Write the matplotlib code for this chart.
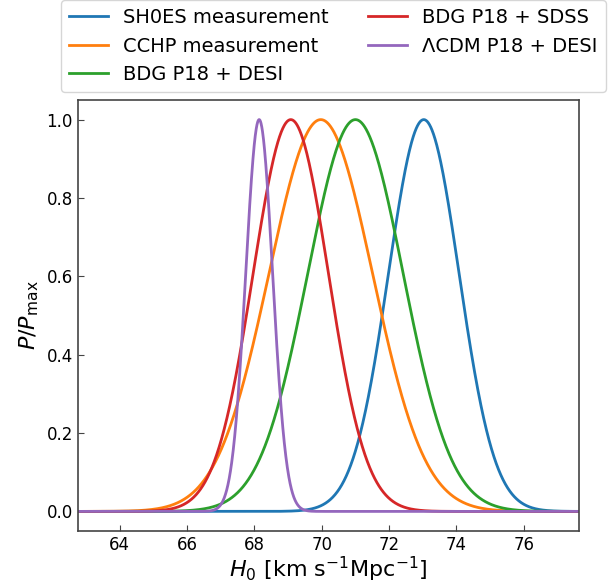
import numpy as np
import matplotlib
matplotlib.use("Agg")
import matplotlib.pyplot as plt

labels = ["SH0ES measurement", "CCHP measurement", "BDG P18 + DESI",
          "BDG P18 + SDSS", "ΛCDM P18 + DESI"]
means = [73.03, 69.97, 71.0, 69.08, 68.14]
sigmas = [1.05, 1.54, 1.42, 1.12, 0.40]
colors = ["#1f77b4", "#ff7f0e", "#2ca02c", "#d62728", "#9467bd"]
xlim = (62.75, 77.64)
yticks = [0.0, 0.2, 0.4, 0.6, 0.8, 1.0]
xticks = [64, 66, 68, 70, 72, 74, 76]

fig = plt.figure(figsize=(6.09, 5.87), dpi=100)
ax = fig.add_axes([0.1276, 0.0954, 0.8231, 0.7342])

h0 = np.linspace(xlim[0], xlim[1], 2000)
for lab, m, s, c in zip(labels, means, sigmas, colors):
    p = np.exp(-0.5 * ((h0 - m) / s) ** 2)
    ax.plot(h0, p / p.max(), color=c, lw=2, label=lab)

ax.set_xlim(*xlim)
ax.set_ylim(-0.05, 1.05)
ax.set_xticks(xticks)
ax.set_yticks(yticks)
ax.tick_params(direction="in", labelsize=12, length=4, color="#444444")
for sp in ax.spines.values():
    sp.set_color("#444444")
    sp.set_linewidth(1.2)
ax.set_xlabel(r"$H_0\ [\mathrm{km\ s^{-1} Mpc^{-1}}]$", fontsize=16, labelpad=1)
ax.set_ylabel(r"$P/P_{\mathrm{max}}$", fontsize=16)
ax.legend(loc="lower center", bbox_to_anchor=(0.51, 1.005), ncol=2,
          fontsize=14, frameon=True, handlelength=2.0, columnspacing=2.0,
          borderaxespad=0.3)
fig.savefig("out.png", dpi=100)
